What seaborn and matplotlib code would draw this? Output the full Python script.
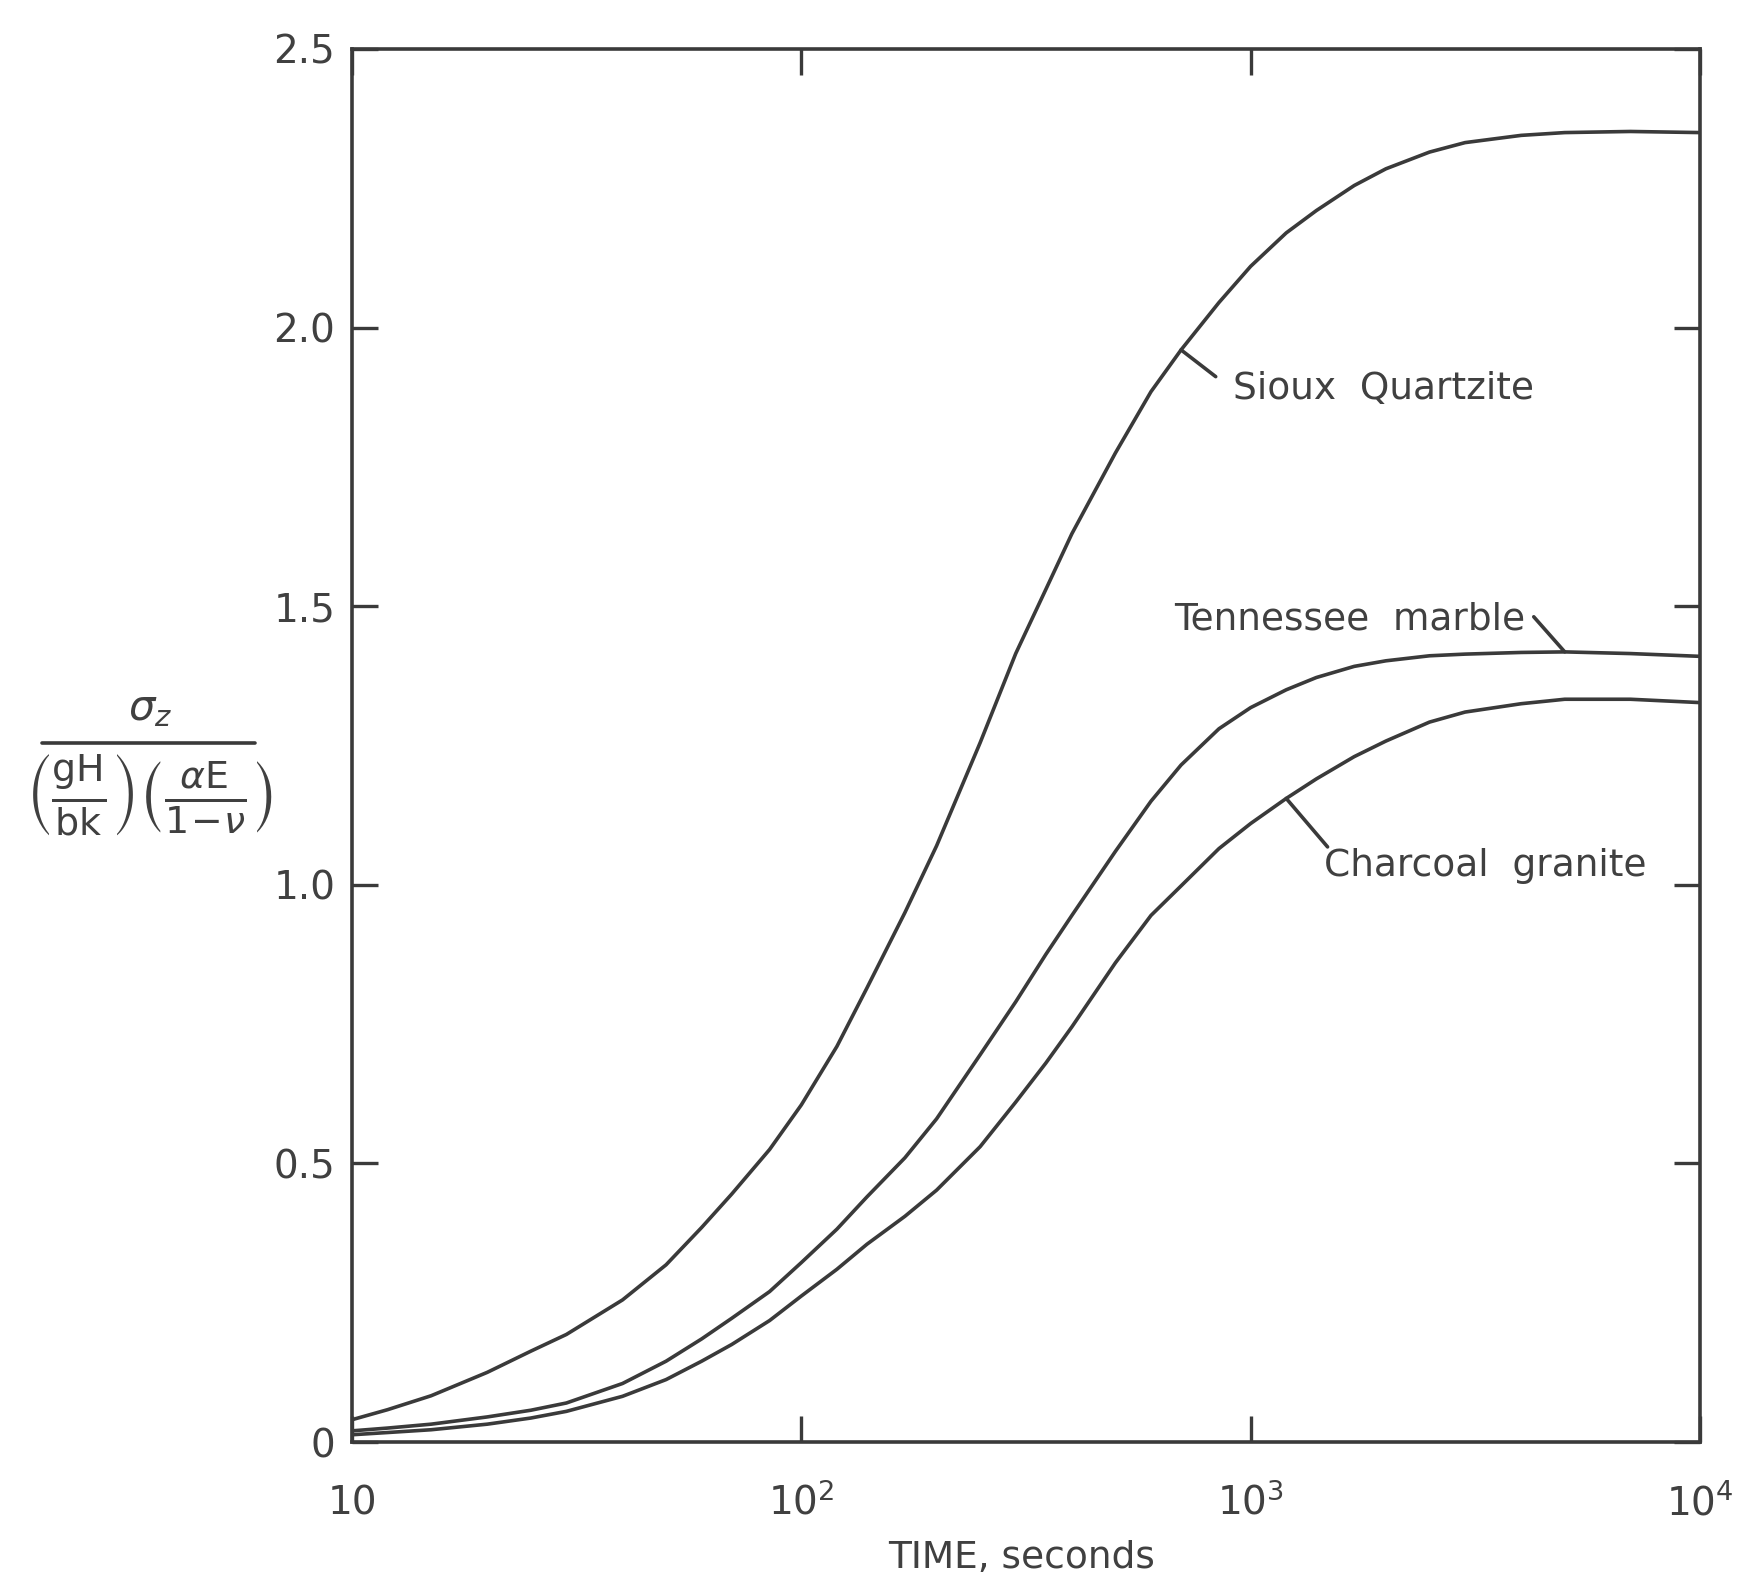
import matplotlib
matplotlib.use("Agg")
import matplotlib.pyplot as plt
import matplotlib.ticker as mticker
from matplotlib.lines import Line2D
import numpy as np
import pandas as pd
import seaborn as sns

# ---- data ----
time_s = [10, 12, 15, 20, 25, 30, 40, 50, 60, 70, 85, 100, 120, 140, 170, 200,
          250, 300, 350, 400, 500, 600, 700, 850, 1000, 1200, 1400, 1700, 2000,
          2500, 3000, 4000, 5000, 7000, 10000]
sioux_quartzite = [0.040, 0.058, 0.083, 0.125, 0.163, 0.193, 0.255, 0.318, 0.385,
                   0.445, 0.525, 0.605, 0.710, 0.815, 0.950, 1.070, 1.255, 1.415,
                   1.530, 1.630, 1.775, 1.885, 1.960, 2.045, 2.110, 2.170, 2.210,
                   2.255, 2.285, 2.315, 2.332, 2.345, 2.350, 2.352, 2.350]
tennessee_marble = [0.020, 0.025, 0.032, 0.045, 0.057, 0.070, 0.105, 0.145, 0.185,
                    0.222, 0.270, 0.322, 0.382, 0.440, 0.510, 0.580, 0.695, 0.790,
                    0.875, 0.945, 1.060, 1.150, 1.215, 1.280, 1.318, 1.350, 1.372,
                    1.392, 1.402, 1.411, 1.414, 1.417, 1.418, 1.415, 1.410]
charcoal_granite = [0.013, 0.017, 0.022, 0.032, 0.043, 0.055, 0.082, 0.112, 0.145,
                    0.175, 0.218, 0.262, 0.310, 0.355, 0.405, 0.452, 0.530, 0.610,
                    0.680, 0.745, 0.860, 0.945, 0.998, 1.065, 1.110, 1.155, 1.190,
                    1.230, 1.258, 1.292, 1.310, 1.325, 1.333, 1.333, 1.327]
materials = ["Sioux Quartzite", "Tennessee marble", "Charcoal granite"]
x_ticks = [10, 100, 1000, 10000]
x_tick_labels = ["10", r"$10^2$", r"$10^3$", r"$10^4$"]
y_ticks = [0, 0.5, 1.0, 1.5, 2.0, 2.5]
y_tick_labels = ["0", "0.5", "1.0", "1.5", "2.0", "2.5"]

df = pd.DataFrame({
    "t": time_s * 3,
    "v": sioux_quartzite + tennessee_marble + charcoal_granite,
    "material": sum([[m] * len(time_s) for m in materials], []),
})

sns.set_theme(style="ticks")
plt.rcParams["font.family"] = ["DejaVu Sans"]
plt.rcParams["mathtext.fontset"] = "dejavusans"

ink = "#3a3a3a"
txt = "#404040"

fig = plt.figure(figsize=(17.64, 15.78), dpi=100)
fig.patch.set_facecolor("white")
W, H = 1764, 1578
ax = fig.add_axes([352 / W, 1 - 1442 / H, (1700 - 352) / W, (1442 - 49) / H])

sns.lineplot(data=df, x="t", y="v", hue="material", palette=[ink] * 3,
             legend=False, linewidth=2.6, ax=ax, sort=True, estimator=None)

ax.set_xscale("log")
ax.set_xlim(10, 10000)
ax.set_ylim(0, 2.5)
ax.xaxis.set_major_locator(mticker.FixedLocator(x_ticks))
ax.xaxis.set_minor_locator(mticker.NullLocator())
ax.set_xticks(x_ticks)
ax.set_xticklabels(x_tick_labels)
ax.set_yticks(y_ticks)
ax.set_yticklabels(y_tick_labels)
ax.set_xlabel("")
ax.set_ylabel("")

for s in ax.spines.values():
    s.set_linewidth(2.6)
    s.set_color(ink)

ax.tick_params(axis="both", which="major", direction="in", length=19, width=2.4,
               color=ink, labelcolor=txt, labelsize=28, top=True, right=True)
ax.tick_params(axis="y", pad=12)
ax.tick_params(axis="x", pad=52)
for lab in ax.get_xticklabels():
    lab.set_verticalalignment("baseline")

# curve labels with leader lines
i_s = time_s.index(700)
i_t = time_s.index(5000)
i_c = time_s.index(1200)
lead = dict(arrowstyle="-", lw=2.6, color=ink, shrinkA=0, shrinkB=0)

ax.annotate("", xy=(time_s[i_s], sioux_quartzite[i_s]), xytext=(836, 1.912),
            arrowprops=lead)
ax.text(912, 1.889, "Sioux  Quartzite", fontsize=27, color=txt,
        ha="left", va="center")

ax.annotate("", xy=(time_s[i_t], tennessee_marble[i_t]), xytext=(4266, 1.481),
            arrowprops=lead)
ax.text(675, 1.476, "Tennessee  marble", fontsize=27, color=txt,
        ha="left", va="center")

ax.annotate("", xy=(time_s[i_c], charcoal_granite[i_c]), xytext=(1483, 1.068),
            arrowprops=lead)
ax.text(1455, 1.034, "Charcoal  granite", fontsize=27, color=txt,
        ha="left", va="center")

# axis labels
fig.text(1022 / W, 1 - 1558 / H, "TIME, seconds", fontsize=27, color=txt,
         ha="center", va="center")

# y label built as a stacked fraction
fig.text(150 / W, 1 - 708 / H, r"$\sigma_z$", fontsize=30, color=txt,
         ha="center", va="center")
fig.add_artist(Line2D([42 / W, 255 / W], [1 - 743 / H, 1 - 743 / H],
                      transform=fig.transFigure, color=ink, lw=2.6))
fig.text(149 / W, 1 - 795 / H,
         r"$\left(\frac{\mathrm{gH}}{\mathrm{bk}}\right)"
         r"\left(\frac{\alpha \mathrm{E}}{\mathrm{1}\!-\!\nu}\right)$",
         fontsize=39, color=txt, ha="center", va="center")

fig.savefig("out.png", dpi=100, facecolor="white")
